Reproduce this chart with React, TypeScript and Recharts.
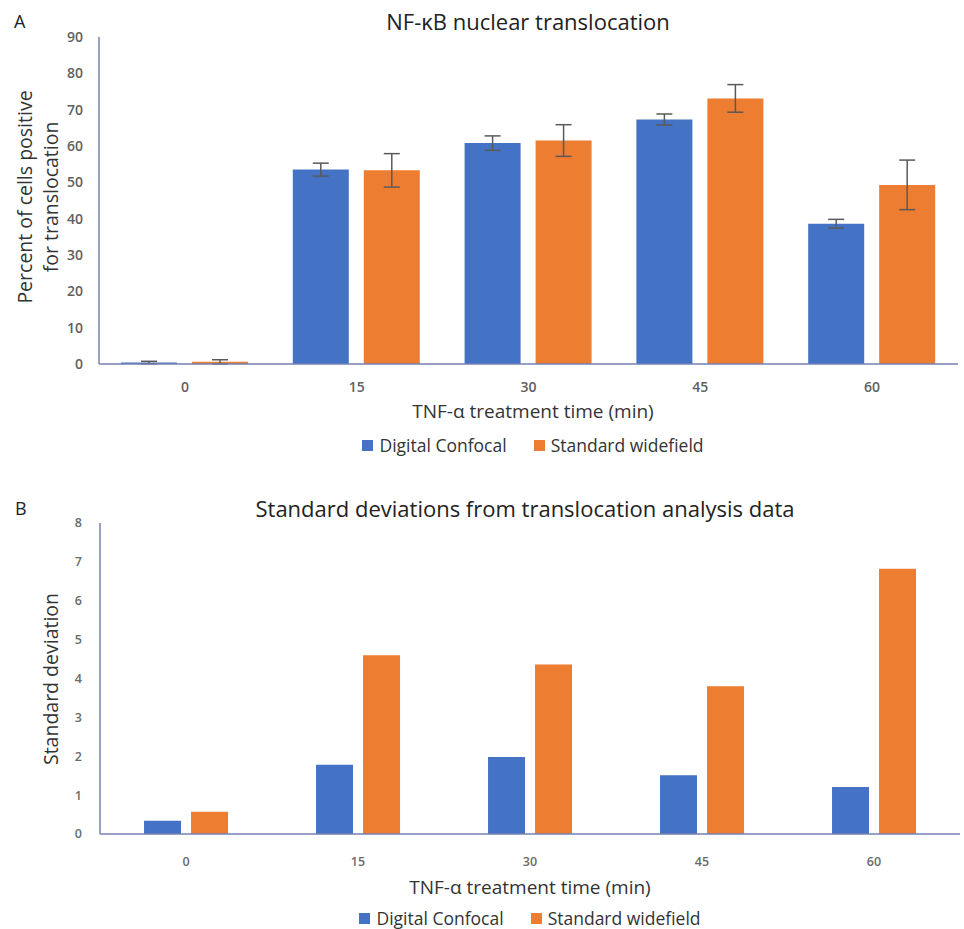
import React from 'react';
import { BarChart, Bar, XAxis, YAxis, ErrorBar, Legend } from 'recharts';

const timeLabels = ['0', '15', '30', '45', '60'];
const confocalPct = [0.4, 53.5, 60.8, 67.3, 38.6];
const widefieldPct = [0.6, 53.3, 61.5, 73.1, 49.3];
const confocalSD = [0.34, 1.78, 1.98, 1.51, 1.21];
const widefieldSD = [0.57, 4.6, 4.36, 3.8, 6.82];
const pctTicks = [0, 10, 20, 30, 40, 50, 60, 70, 80, 90];
const sdTicks = [0, 1, 2, 3, 4, 5, 6, 7, 8];

const BLUE = '#4472C4';
const ORANGE = '#ED7D31';
const AXIS = '#7581b3';
const FONT = '"Open Sans", "Noto Sans", sans-serif';

const pctData = timeLabels.map((t, i) => ({
  time: t,
  confocal: confocalPct[i],
  widefield: widefieldPct[i],
  confocalErr: confocalSD[i],
  widefieldErr: widefieldSD[i],
}));

const sdData = timeLabels.map((t, i) => ({
  time: t,
  confocal: confocalSD[i],
  widefield: widefieldSD[i],
}));

const makeLegend = (fontSize: number) => (props: any) => {
  const payload = props.payload || [];
  return (
    <div style={{ display: 'flex', justifyContent: 'center', gap: 27, fontFamily: FONT, fontSize, color: '#333', lineHeight: '20px' }}>
      {payload.map((entry: any) => (
        <div key={entry.value} style={{ display: 'flex', alignItems: 'center' }}>
          <span style={{ display: 'inline-block', width: 11, height: 11, background: entry.color, marginRight: 6 }} />
          <span>{entry.value}</span>
        </div>
      ))}
    </div>
  );
};

export default function App() {
  return (
    <div style={{ position: 'absolute', left: 0, top: 0, width: 964, height: 929, background: '#fff' }}>
      <div style={{ position: 'absolute', left: 0, top: 0 }}>
        <BarChart width={964} height={470} data={pctData} margin={{ top: 37, right: 6, bottom: 0, left: 0 }} barCategoryGap="12.8%" barGap={15}>
          <XAxis dataKey="time" height={106} tickLine={false} tickMargin={12} stroke={AXIS} strokeWidth={1.5}
            tick={{ fill: '#5f5f5f', fontSize: 14, fontWeight: 600, fontFamily: FONT }} />
          <YAxis width={99} domain={[0, 90]} ticks={pctTicks} tickLine={false} tickMargin={10} stroke={AXIS} strokeWidth={1.5}
            tick={{ fill: '#5f5f5f', fontSize: 14, fontWeight: 600, fontFamily: FONT }} />
          <Legend verticalAlign="middle" align="center" layout="horizontal" wrapperStyle={{ top: 435, left: 102, width: 862 }} content={makeLegend(17.5)} />
          <Bar dataKey="confocal" name="Digital Confocal" fill={BLUE} isAnimationActive={false}>
            <ErrorBar dataKey="confocalErr" width={8} stroke="#5a5a5a" strokeWidth={1.5} direction="y" />
          </Bar>
          <Bar dataKey="widefield" name="Standard widefield" fill={ORANGE} isAnimationActive={false}>
            <ErrorBar dataKey="widefieldErr" width={8} stroke="#5a5a5a" strokeWidth={1.5} direction="y" />
          </Bar>
        </BarChart>
      </div>
      <div style={{ position: 'absolute', left: 0, top: 470 }}>
        <BarChart width={964} height={459} data={sdData} margin={{ top: 53, right: 4, bottom: 0, left: 0 }} barCategoryGap="25.6%" barGap={10}>
          <XAxis dataKey="time" height={95} tickLine={false} tickMargin={17} stroke={AXIS} strokeWidth={1.5}
            tick={{ fill: '#6a6a6a', fontSize: 12.5, fontWeight: 600, fontFamily: FONT }} />
          <YAxis width={100} domain={[0, 8]} ticks={sdTicks} tickLine={false} tickMargin={12} stroke={AXIS} strokeWidth={1.5}
            tick={{ fill: '#6a6a6a', fontSize: 12.5, fontWeight: 600, fontFamily: FONT }} />
          <Legend verticalAlign="middle" align="center" layout="horizontal" wrapperStyle={{ top: 438, left: 96, width: 868 }} content={makeLegend(17.5)} />
          <Bar dataKey="confocal" name="Digital Confocal" fill={BLUE} isAnimationActive={false} />
          <Bar dataKey="widefield" name="Standard widefield" fill={ORANGE} isAnimationActive={false} />
        </BarChart>
      </div>
      <svg width={964} height={929} style={{ position: 'absolute', left: 0, top: 0, pointerEvents: 'none' }} fontFamily={FONT}>
        <text x={14} y={21} fontSize={18} fill="#222" dominantBaseline="central">A</text>
        <text x={528} y={21} fontSize={22} fill="#222" textAnchor="middle" dominantBaseline="central">NF-κB nuclear translocation</text>
        <text transform="translate(24,197) rotate(-90)" fontSize={19.5} fill="#333" textAnchor="middle" dominantBaseline="central">Percent of cells positive</text>
        <text transform="translate(50,197) rotate(-90)" fontSize={19.5} fill="#333" textAnchor="middle" dominantBaseline="central">for translocation</text>
        <text x={533} y={411} fontSize={19} fill="#333" textAnchor="middle" dominantBaseline="central">TNF-α treatment time (min)</text>

        <text x={15} y={508} fontSize={18} fill="#222" dominantBaseline="central">B</text>
        <text x={525} y={508} fontSize={22} fill="#222" textAnchor="middle" dominantBaseline="central">Standard deviations from translocation analysis data</text>
        <text transform="translate(50,679) rotate(-90)" fontSize={19.5} fill="#333" textAnchor="middle" dominantBaseline="central">Standard deviation</text>
        <text x={530} y={887} fontSize={19} fill="#333" textAnchor="middle" dominantBaseline="central">TNF-α treatment time (min)</text>
      </svg>
    </div>
  );
}
